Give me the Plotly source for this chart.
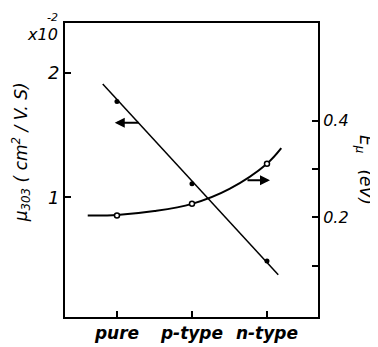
import plotly.graph_objects as go

# ---- data ----
categories = ["pure", "p-type", "n-type"]
cat_pos = [0, 1, 2]

# mobility (left axis, x10^-2 cm^2/V.S), filled points
mu_values = [1.77, 1.11, 0.49]
# fitted straight line for mobility
mu_fit_x = [-0.19, 2.15]
mu_fit_y = [1.91, 0.38]

# activation energy (right axis, eV), open points
e_values = [0.204, 0.228, 0.311]
# smooth curve through E values
e_curve_x = [-0.39, 0.0, 0.5, 1.0, 1.5, 2.0, 2.19]
e_curve_y = [0.204, 0.205, 0.213, 0.228, 0.259, 0.311, 0.343]

left_ticks = [1, 2]
right_ticks = [0.1, 0.2, 0.3, 0.4]
right_ticktext = ["", "0.2", "", "0.4"]

font_family = "DejaVu Sans"

fig = go.Figure()

fig.add_trace(go.Scatter(x=mu_fit_x, y=mu_fit_y, mode="lines",
                         line=dict(color="black", width=1.5), yaxis="y",
                         showlegend=False, hoverinfo="skip"))
fig.add_trace(go.Scatter(x=cat_pos, y=mu_values, mode="markers",
                         marker=dict(color="black", size=5), yaxis="y",
                         showlegend=False))
fig.add_trace(go.Scatter(x=e_curve_x, y=e_curve_y, mode="lines",
                         line=dict(color="black", width=2, shape="spline"),
                         yaxis="y2", showlegend=False, hoverinfo="skip"))
fig.add_trace(go.Scatter(x=cat_pos, y=e_values, mode="markers",
                         marker=dict(color="white", size=5,
                                     line=dict(color="black", width=1.5)),
                         yaxis="y2", showlegend=False))

axis_common = dict(showline=True, linecolor="black", linewidth=2,
                   ticks="inside", ticklen=6, tickcolor="black", tickwidth=1.5,
                   showgrid=False, zeroline=False)

fig.update_layout(
    width=378, height=347,
    margin=dict(l=57, r=68, t=15, b=25),
    paper_bgcolor="white", plot_bgcolor="white",
    font=dict(family=font_family, color="black", size=14, style="italic"),
    xaxis=dict(range=[-0.693, 2.68], tickvals=cat_pos, ticktext=categories,
               mirror=True, tickfont=dict(size=17, style="italic", weight="bold"),
               ticklabelstandoff=0,
               **axis_common),
    yaxis=dict(range=[0.04, 2.4], tickvals=left_ticks,
               tickfont=dict(size=18, style="italic"), **axis_common),
    yaxis2=dict(range=[-0.006, 0.602], overlaying="y", side="right",
                tickvals=right_ticks, ticktext=right_ticktext,
                tickfont=dict(size=16, style="italic"), **axis_common),
)

# arrows
fig.add_annotation(x=-0.03, y=1.6, ax=0.31, ay=1.6, xref="x", yref="y",
                   axref="x", ayref="y", showarrow=True, arrowhead=2,
                   arrowsize=1, arrowwidth=2, arrowcolor="black", text="")
fig.add_annotation(x=2.04, y=0.277, ax=1.72, ay=0.277, xref="x", yref="y2",
                   axref="x", ayref="y2", showarrow=True, arrowhead=2,
                   arrowsize=1, arrowwidth=2, arrowcolor="black", text="")

# axis titles
fig.add_annotation(xref="paper", yref="paper", x=-0.174, y=0.56,
                   text="μ<sub>303</sub> ( cm<sup>2</sup> / V. S)",
                   textangle=-90, showarrow=False,
                   font=dict(size=17, style="italic"), xanchor="center", yanchor="middle")
fig.add_annotation(xref="paper", yref="paper", x=1.186, y=0.50,
                   text="E<sub>μ</sub>   (eV)",
                   textangle=90, showarrow=False,
                   font=dict(size=17, style="italic"), xanchor="center", yanchor="middle")
# multiplier
fig.add_annotation(xref="paper", yref="paper", x=-0.02, y=0.96,
                   text="x10", showarrow=False, xanchor="right", yanchor="middle",
                   font=dict(size=16, style="italic"))
fig.add_annotation(xref="paper", yref="paper", x=-0.02, y=1.02,
                   text="-2", showarrow=False, xanchor="right", yanchor="middle",
                   font=dict(size=11, style="italic"))

fig.write_html("out.html")
